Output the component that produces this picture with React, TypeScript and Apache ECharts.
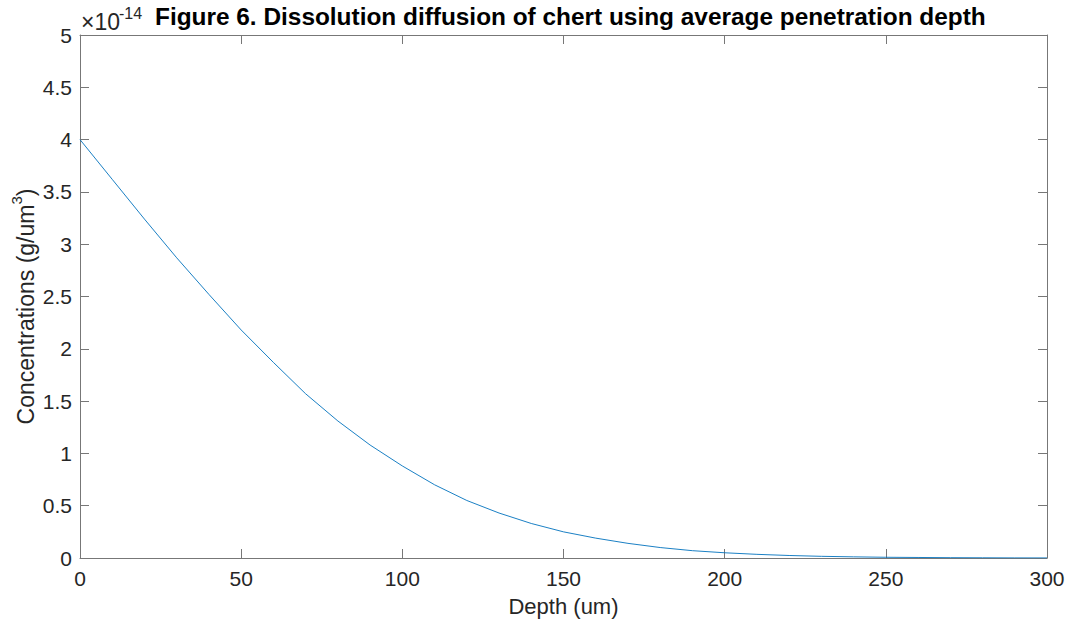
import React, { useEffect, useRef } from "react";
import * as echarts from "echarts";

// Depth (um)
const depth = [0, 10, 20, 30, 40, 50, 60, 70, 80, 90, 100, 110, 120, 130, 140, 150, 160, 170, 180, 190, 200, 210, 220, 230, 240, 250, 260, 270, 280, 290, 300];
// Concentration, in units of 1e-14 g/um^3
const conc = [4.0, 3.62, 3.24, 2.87, 2.52, 2.18, 1.87, 1.57, 1.31, 1.08, 0.88, 0.7, 0.55, 0.43, 0.33, 0.25, 0.19, 0.14, 0.1, 0.07, 0.05, 0.035, 0.024, 0.016, 0.011, 0.007, 0.005, 0.003, 0.002, 0.001, 0.0007];

const xTicks = { min: 0, max: 300, interval: 50 };
const yTicks = { min: 0, max: 5, interval: 0.5 };

const titleText = "Figure 6. Dissolution diffusion of chert using average penetration depth";
const xName = "Depth (um)";
const exponentBase = "×10";
const exponentSup = "-14";

export default function App() {
  const ref = useRef<HTMLDivElement>(null);
  useEffect(() => {
    if (!ref.current) return;
    const chart = echarts.init(ref.current, null, { renderer: "svg" });
    const axisColor = "#777777";
    const labelColor = "#262626";
    const font = "Liberation Sans, Arial, Helvetica, sans-serif";
    const data = depth.map((d, i) => [d, conc[i]]);
    const baseX = {
      type: "value",
      min: xTicks.min,
      max: xTicks.max,
      interval: xTicks.interval,
      splitLine: { show: false },
      axisLine: { show: true, onZero: false, lineStyle: { color: axisColor, width: 1 } },
      axisTick: { show: true, inside: true, length: 9, lineStyle: { color: axisColor } },
    };
    const baseY = {
      type: "value",
      min: yTicks.min,
      max: yTicks.max,
      interval: yTicks.interval,
      splitLine: { show: false },
      axisLine: { show: true, onZero: false, lineStyle: { color: axisColor, width: 1 } },
      axisTick: { show: true, inside: true, length: 9, lineStyle: { color: axisColor } },
    };
    chart.setOption({
      animation: false,
      backgroundColor: "#ffffff",
      grid: { left: 80, right: 21, top: 35, bottom: 68, containLabel: false, outerBoundsMode: "none" },
      xAxis: [
        {
          ...baseX,
          position: "bottom",
          name: xName,
          nameLocation: "middle",
          nameGap: 37,
          nameMoveOverlap: false,
          nameTextStyle: { color: labelColor, fontSize: 22, fontFamily: font },
          axisLabel: { color: labelColor, fontSize: 21, fontFamily: font, margin: 10 },
        },
        { ...baseX, position: "top", axisLabel: { show: false } },
      ],
      yAxis: [
        {
          ...baseY,
          position: "left",
          name: "{a|Concentrations (g/um}{s|3}{a|)}",
          nameLocation: "middle",
          nameRotate: 90,
          nameGap: 43,
          nameMoveOverlap: false,
          nameTextStyle: {
            color: labelColor,
            fontSize: 23,
            fontFamily: font,
            padding: [0, 20, 0, 0],
            rich: {
              a: { fontSize: 23, fontFamily: font, color: labelColor, verticalAlign: "bottom", lineHeight: 28 },
              s: { fontSize: 15, fontFamily: font, color: labelColor, verticalAlign: "top", lineHeight: 28 },
            },
          },
          axisLabel: { color: labelColor, fontSize: 21, fontFamily: font, margin: 8 },
        },
        { ...baseY, position: "right", axisLabel: { show: false } },
      ],
      series: [
        {
          type: "line",
          data,
          xAxisIndex: 0,
          yAxisIndex: 0,
          showSymbol: false,
          smooth: false,
          lineStyle: { color: "#0072BD", width: 0.9 },
        },
      ],
      graphic: [
        {
          type: "text",
          left: 155,
          top: 4,
          style: { text: titleText, fontSize: 24.4, fontWeight: "bold", fontFamily: font, fill: "#000000" },
        },
        {
          type: "text",
          left: 81,
          top: 10,
          style: { text: exponentBase, fontSize: 23, fontFamily: font, fill: labelColor },
        },
        {
          type: "text",
          left: 119,
          top: 5,
          style: { text: exponentSup, fontSize: 16, fontFamily: font, fill: labelColor },
        },
      ],
    });
    return () => chart.dispose();
  }, []);
  return <div ref={ref} style={{ position: "absolute", left: 0, top: 0, width: 1068, height: 626 }} />;
}
